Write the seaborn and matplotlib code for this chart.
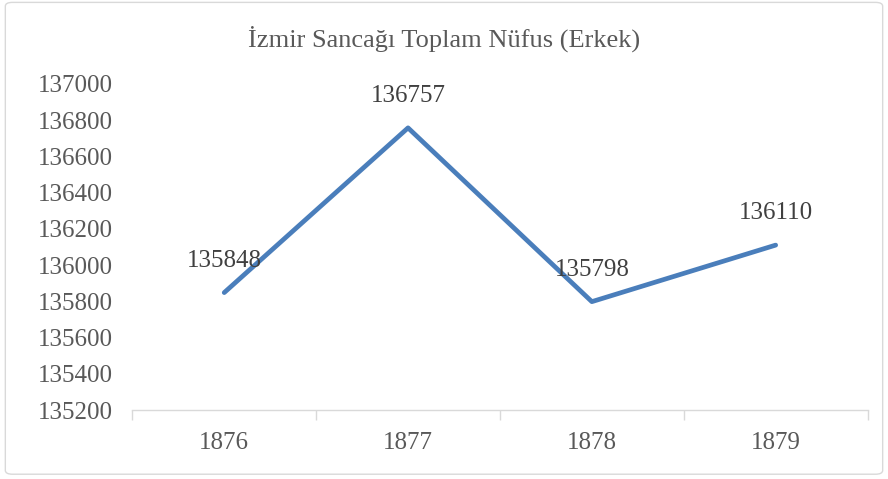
import pandas as pd
import matplotlib.pyplot as plt
import seaborn as sns
from matplotlib.patches import FancyBboxPatch

years = ['1876', '1877', '1878', '1879']
erkek = [135848, 136757, 135798, 136110]

df = pd.DataFrame({'year': years, 'erkek': erkek})

sns.set_style('white')
plt.rcParams['font.family'] = ['Liberation Serif', 'DejaVu Serif']
text_color = '#595959'

fig = plt.figure(figsize=(8.88, 4.79), dpi=100)
ax = fig.add_axes([0.149, 0.144, 0.828, 0.681])

sns.lineplot(data=df, x='year', y='erkek', color='#4a7ebb', linewidth=3.4, ax=ax)

# data labels above points
for i, v in enumerate(erkek):
    ax.annotate(str(v), (i, v), xytext=(0, 15), textcoords='offset points',
                ha='center', va='bottom', fontsize=18, color='#404040')

ax.set_xlim(-0.5, 3.5)
ax.set_ylim(135200, 137000)
ax.set_yticks(range(135200, 137001, 200))
ax.set_xticks(range(len(years)))
ax.set_xticklabels(years)
ax.set_xticks([-0.5, 0.5, 1.5, 2.5, 3.5], minor=True)
ax.tick_params(axis='x', which='major', length=0, pad=16, labelsize=18, labelcolor=text_color)
ax.tick_params(axis='x', which='minor', bottom=True, direction='out', length=7,
               color='#d9d9d9', width=1)
ax.tick_params(axis='y', length=0, pad=14, labelsize=18, labelcolor=text_color)
ax.set_xlabel('')
ax.set_ylabel('')
for s in ['top', 'right', 'left']:
    ax.spines[s].set_visible(False)
ax.spines['bottom'].set_color('#d9d9d9')
ax.spines['bottom'].set_linewidth(1)

fig.text(0.5, 0.92, 'İzmir Sancağı Toplam Nüfus (Erkek)', ha='center', va='center',
         fontsize=19, color=text_color)

border = FancyBboxPatch((0.006, 0.01), 0.988, 0.985, boxstyle='round,pad=0,rounding_size=0.008',
                        transform=fig.transFigure, fill=False, edgecolor='#d9d9d9', linewidth=1)
fig.patches.append(border)

fig.savefig('out.png', dpi=100)
